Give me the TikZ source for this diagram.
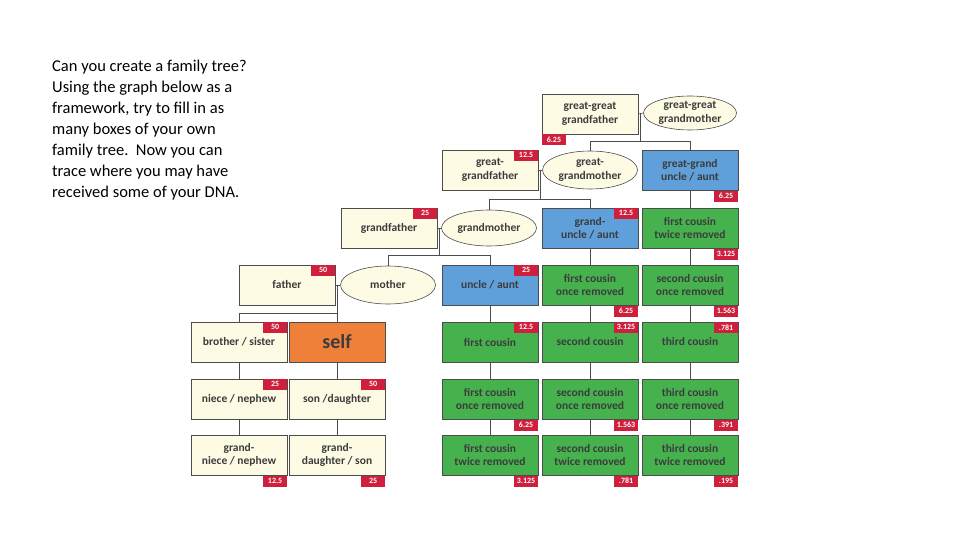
\documentclass[tikz,border=0pt]{standalone}
\usepackage{fontspec}
\setmainfont{Carlito}
\usetikzlibrary{shapes.geometric,calc}
\definecolor{cream}{RGB}{253,251,228}
\definecolor{bluebx}{RGB}{96,160,218}
\definecolor{greenbx}{RGB}{70,178,78}
\definecolor{orangebx}{RGB}{238,128,58}
\definecolor{badgered}{RGB}{206,32,60}
\definecolor{txt}{RGB}{60,60,60}
\begin{document}
\begin{tikzpicture}[x=1pt,y=-1pt,
  bx/.style={draw=black!70,line width=0.6pt,minimum width=96pt,minimum height=40pt,inner sep=1pt,align=center,font=\fontsize{11.5}{13.5}\selectfont\bfseries,text=txt},
  cr/.style={bx,fill=cream},
  bl/.style={bx,fill=bluebx},
  gr/.style={bx,fill=greenbx},
  el/.style={ellipse,draw=black!70,line width=0.6pt,fill=cream,minimum width=95pt,minimum height=36pt,inner sep=0pt,align=center,font=\fontsize{11.5}{13.5}\selectfont\bfseries,text=txt},
  bd/.style={fill=badgered,text=white,font=\fontsize{8}{9}\selectfont\bfseries,minimum width=24pt,minimum height=11pt,inner sep=0.5pt},
  ln/.style={draw=black!70,line width=0.6pt}]
\path[use as bounding box] (0,0) rectangle (960,540);
\node[anchor=north west,align=left,font=\fontsize{16.5}{21}\selectfont,inner sep=0pt] (intro) at (52,60)
 {Can you create a family tree?\\Using the graph below as a\\framework, try to fill in as\\many boxes of your own\\family tree.\ \ Now you can\\trace where you may have\\received some of your DNA.};
% row 1
\node[cr] (ggf) at (590,114) {great-great\\grandfather};
\node[el,minimum width=93pt,minimum height=34pt] (ggm) at (690,113) {great-great\\grandmother};
% row 2
\node[cr] (gf2) at (490,170) {great-\\grandfather};
\node[el,minimum height=38pt] (gm2) at (590,170) {great-\\grandmother};
\node[bl] (ggu) at (690,170) {great-grand\\uncle / aunt};
% row 3
\node[cr] (gf) at (389,228) {grandfather};
\node[el] (gm) at (489,228) {grandmother};
\node[bl] (gu) at (590,228) {grand-\\uncle / aunt};
\node[gr] (fc2r) at (690,228) {first cousin\\twice removed};
% row 4
\node[cr] (fa) at (287,285) {father};
\node[el,minimum height=38pt] (mo) at (388,285) {mother};
\node[bl] (un) at (490,285) {uncle / aunt};
\node[gr] (fc1r) at (590,285) {first cousin\\once removed};
\node[gr] (sc1r) at (690,285) {second cousin\\once removed};
% row 5
\node[cr] (bro) at (239,342) {brother / sister};
\node[bx,fill=orangebx,font=\fontsize{20}{22}\selectfont\bfseries] (self) at (337,342) {self};
\node[gr] (fc) at (490,342) {first cousin};
\node[gr] (sc) at (590,342) {second cousin};
\node[gr] (tc) at (690,342) {third cousin};
% row 6
\node[cr] (ni) at (239,399) {niece / nephew};
\node[cr] (son) at (337,399) {son /daughter};
\node[gr] (fca) at (490,399) {first cousin\\once removed};
\node[gr] (sca) at (590,399) {second cousin\\once removed};
\node[gr] (tca) at (690,399) {third cousin\\once removed};
% row 7
\node[cr] (gn) at (239,455) {grand-\\niece / nephew};
\node[cr] (gd) at (337,455) {grand-\\daughter / son};
\node[gr] (fcb) at (490,455) {first cousin\\twice removed};
\node[gr] (scb) at (590,455) {second cousin\\twice removed};
\node[gr] (tcb) at (690,455) {third cousin\\twice removed};
% couple connectors
\draw[ln] (ggf.east) -- (ggm.west);
\coordinate (j1) at ($(ggf.east)!0.5!(ggm.west)$);
\coordinate (h1) at ([yshift=-28]j1);
\draw[ln] (j1) -- (h1);
\draw[ln] (gm2.north) -- (gm2.north |- h1) -- (ggu.north |- h1) -- (ggu.north);
\draw[ln] (gf2.east) -- (gm2.west);
\coordinate (j2) at ($(gf2.east)!0.5!(gm2.west)$);
\coordinate (h2) at ([yshift=-29]j2);
\draw[ln] (j2) -- (h2);
\draw[ln] (gm.north) -- (gm.north |- h2) -- (gu.north |- h2) -- (gu.north);
\draw[ln] (gf.east) -- (gm.west);
\coordinate (j3) at ($(gf.east)!0.5!(gm.west)$);
\coordinate (h3) at ([yshift=-27]j3);
\draw[ln] (j3) -- (h3);
\draw[ln] (mo.north) -- (mo.north |- h3) -- (un.north |- h3) -- (un.north);
\draw[ln] (fa.east) -- (mo.west);
\coordinate (j4) at ($(fa.east)!0.5!(mo.west)$);
\coordinate (h4) at ([yshift=-28]j4);
\draw[ln] (j4) -- (h4);
\draw[ln] (bro.north) -- (bro.north |- h4) -- (self.north |- h4) -- (self.north);
% descent lines
\draw[ln] (bro.south) -- (ni.north);
\draw[ln] (ni.south) -- (gn.north);
\draw[ln] (self.south) -- (son.north);
\draw[ln] (son.south) -- (gd.north);
\draw[ln] (un.south) -- (fc.north);
\draw[ln] (fc.south) -- (fca.north);
\draw[ln] (fca.south) -- (fcb.north);
\draw[ln] (gu.south) -- (fc1r.north);
\draw[ln] (fc1r.south) -- (sc.north);
\draw[ln] (sc.south) -- (sca.north);
\draw[ln] (sca.south) -- (scb.north);
\draw[ln] (ggu.south) -- (fc2r.north);
\draw[ln] (fc2r.south) -- (sc1r.north);
\draw[ln] (sc1r.south) -- (tc.north);
\draw[ln] (tc.south) -- (tca.north);
\draw[ln] (tca.south) -- (tcb.north);
% badges
\node[bd,anchor=north west] (b1) at (ggf.south west) {6.25};
\node[bd,anchor=north east] (b2) at (gf2.north east) {12.5};
\node[bd,anchor=north east] (b3) at (ggu.south east) {6.25};
\node[bd,anchor=north east] (b4) at (gf.north east) {25};
\node[bd,anchor=north east] (b5) at (gu.north east) {12.5};
\node[bd,anchor=north east] (b6) at (fc2r.south east) {3.125};
\node[bd,anchor=north east] (b7) at (fa.north east) {50};
\node[bd,anchor=north east] (b8) at (un.north east) {25};
\node[bd,anchor=north east] (b9) at (fc1r.south east) {6.25};
\node[bd,anchor=north east] (b10) at (sc1r.south east) {1.563};
\node[bd,anchor=north east] (b11) at (bro.north east) {50};
\node[bd,anchor=north east] (b12) at (fc.north east) {12.5};
\node[bd,anchor=north east] (b13) at (sc.north east) {3.125};
\node[bd,anchor=north east] (b14) at (tc.north east) {.781};
\node[bd,anchor=north east] (b15) at (ni.north east) {25};
\node[bd,anchor=north east] (b16) at (son.north east) {50};
\node[bd,anchor=north east] (b17) at (fca.south east) {6.25};
\node[bd,anchor=north east] (b18) at (sca.south east) {1.563};
\node[bd,anchor=north east] (b19) at (tca.south east) {.391};
\node[bd,anchor=north east] (b20) at (gn.south east) {12.5};
\node[bd,anchor=north east] (b21) at (gd.south east) {25};
\node[bd,anchor=north east] (b22) at (fcb.south east) {3.125};
\node[bd,anchor=north east] (b23) at (scb.south east) {.781};
\node[bd,anchor=north east] (b24) at (tcb.south east) {.195};
\end{tikzpicture}
\end{document}
